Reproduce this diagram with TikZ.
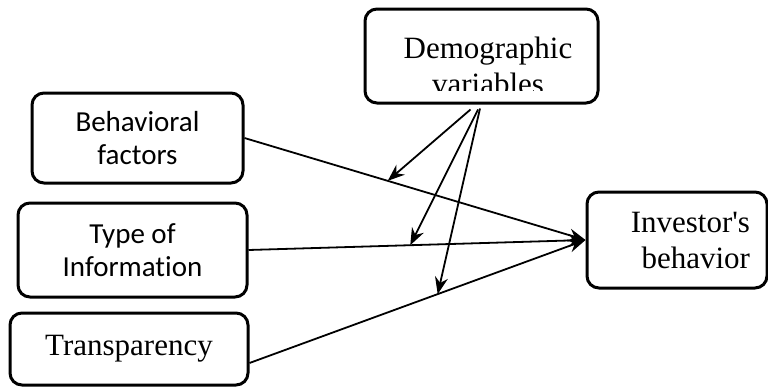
\documentclass[tikz,border=0pt]{standalone}
\usepackage{fontspec}
\setmainfont{Liberation Serif}
\newfontfamily\calib[Ligatures=NoCommon]{Carlito}
\usepackage{tikz}
\usetikzlibrary{arrows.meta,calc,positioning}
\tikzset{bx/.style={draw, rectangle, rounded corners=12pt, line width=3pt, inner sep=0pt}}
\tikzstyle{sr}=[font=\fontsize{31}{36}\selectfont, align=center]
\tikzstyle{sf}=[font=\calib\fontsize{29}{33}\selectfont, align=center]

\begin{document}
\begin{tikzpicture}[x=1pt, y=-1pt, >={Stealth[length=17pt,width=13pt]}, line width=1.8pt]
\useasboundingbox (0,0) rectangle (768,388);
\node[bx, minimum width=233pt, minimum height=94pt] (demog) at (481.5,56) {};
\begin{scope}
\clip (365,9) rectangle (598,90);
\node[sr] (demogtxt) at (488,66) {Demographic\\variables};
\end{scope}
\node[bx, sf, minimum width=211pt, minimum height=90pt] (behav) at (137.5,138) {Behavioral\\factors};
\node[bx, sf, minimum width=229pt, minimum height=94pt] (type) at (132.5,250) {Type of\\Information};
\node[bx, sr, minimum width=238pt, minimum height=72pt] (transp) at (129,349) {Transparency};
\node[bx, sr, minimum width=180pt, minimum height=96pt, text width=146pt, inner xsep=17pt, align=right] (inv) at (677,240) {Investor\textquotesingle s\\behavior};

\draw[->] (behav.east) -- coordinate[pos=0.42] (m1) (inv.west);
\draw[->] (type.east) -- coordinate[pos=0.48] (m2) (inv.west);
\draw[->] ([yshift=-14pt]transp.east) -- coordinate[pos=0.56] (m3) (inv.west);

\draw[->] ([xshift=-11pt,yshift=-5pt]demog.south) -- (m1);
\draw[->] ([xshift=-3.5pt,yshift=-5pt]demog.south) -- (m2);
\draw[->] ([xshift=-1.5pt,yshift=-4pt]demog.south) -- (m3);
\end{tikzpicture}
\end{document}
